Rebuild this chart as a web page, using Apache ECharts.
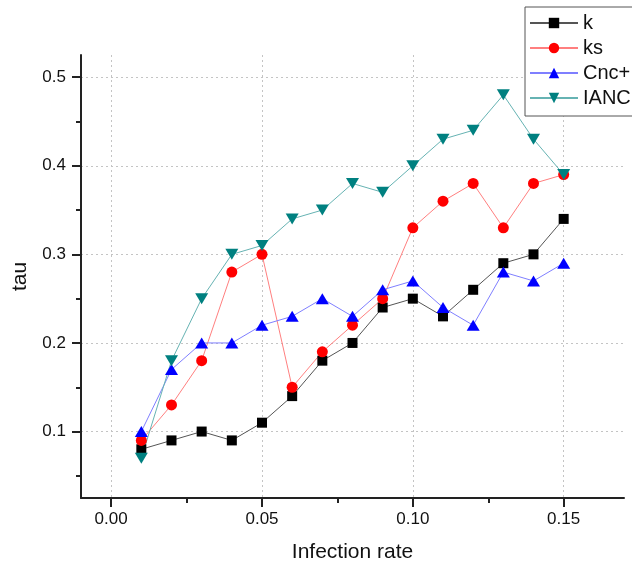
<!DOCTYPE html>
<html>
<head>
<meta charset="utf-8">
<script src="https://cdn.jsdelivr.net/npm/echarts@6/dist/echarts.min.js"></script>
<style>html,body{margin:0;padding:0;background:#fff}#c{width:632px;height:568px}</style>
</head>
<body>
<div id="c"></div>
<script>
const xValues = [0.01,0.02,0.03,0.04,0.05,0.06,0.07,0.08,0.09,0.10,0.11,0.12,0.13,0.14,0.15];
const kValues    = [0.08,0.09,0.10,0.09,0.11,0.14,0.18,0.20,0.24,0.25,0.23,0.26,0.29,0.30,0.34];
const ksValues   = [0.09,0.13,0.18,0.28,0.30,0.15,0.19,0.22,0.25,0.33,0.36,0.38,0.33,0.38,0.39];
const cncValues  = [0.10,0.17,0.20,0.20,0.22,0.23,0.25,0.23,0.26,0.27,0.24,0.22,0.28,0.27,0.29];
const iancValues = [0.07,0.18,0.25,0.30,0.31,0.34,0.35,0.38,0.37,0.40,0.43,0.44,0.48,0.43,0.39];
const xMajorTicks = [0, 0.05, 0.10, 0.15];
const xMinorTicks = [0.025, 0.075, 0.125];
const yMajorTicks = [0.1, 0.2, 0.3, 0.4, 0.5];
const yMinorTicks = [0.05, 0.15, 0.25, 0.35, 0.45];
const seriesNames = ['k', 'ks', 'Cnc+', 'IANC'];

const FONT = '"Liberation Sans", Arial, sans-serif';
const pair = v => xValues.map((x, i) => [x, v[i]]);
const axisLineStyle = {color: '#222', width: 2};
const gridDot = {show: true, lineStyle: {color: '#c4c4c4', width: 1, type: [2, 3]}};

const chart = echarts.init(document.getElementById('c'), null, {renderer: 'canvas'});
chart.setOption({
  animation: false,
  backgroundColor: '#fff',
  textStyle: {fontFamily: FONT},
  grid: {left: 81, top: 55, width: 543, height: 444},
  legend: {
    orient: 'vertical', left: 525, top: 7,
    padding: [6, 20, 8, 4],
    itemWidth: 48, itemHeight: 13, itemGap: 5,
    borderColor: '#555', borderWidth: 1, backgroundColor: '#fff',
    textStyle: {fontFamily: FONT, fontSize: 20, color: '#111', padding: [0, 0, 0, 0]},
    data: seriesNames
  },
  xAxis: [{
    type: 'value', min: -0.01, max: 0.17,
    name: 'Infection rate', nameLocation: 'middle', nameGap: 44,
    nameTextStyle: {fontFamily: FONT, fontSize: 21, color: '#111'},
    axisLine: {show: true, onZero: false, lineStyle: axisLineStyle},
    axisTick: {show: true, inside: false, length: 9, lineStyle: {color: '#222', width: 2}, customValues: xMajorTicks},
    axisLabel: {customValues: xMajorTicks, formatter: v => v.toFixed(2), fontFamily: FONT, fontSize: 17, color: '#111', margin: 13},
    splitLine: gridDot
  }, {
    type: 'value', min: -0.01, max: 0.17, position: 'bottom',
    axisLine: {show: false, onZero: false},
    axisTick: {show: true, length: 5, lineStyle: {color: '#222', width: 2}, customValues: xMinorTicks},
    axisLabel: {show: false},
    splitLine: {show: false}
  }],
  yAxis: [{
    type: 'value', min: 0.025, max: 0.525,
    name: 'tau', nameLocation: 'middle', nameGap: 50,
    nameTextStyle: {fontFamily: FONT, fontSize: 21, color: '#111'},
    axisLine: {show: true, onZero: false, lineStyle: axisLineStyle},
    axisTick: {show: true, length: 9, lineStyle: {color: '#222', width: 2}, customValues: yMajorTicks},
    axisLabel: {customValues: yMajorTicks, formatter: v => v.toFixed(1), fontFamily: FONT, fontSize: 17, color: '#111', margin: 15},
    splitLine: gridDot
  }, {
    type: 'value', min: 0.025, max: 0.525, position: 'left',
    axisLine: {show: false, onZero: false},
    axisTick: {show: true, length: 5, lineStyle: {color: '#222', width: 2}, customValues: yMinorTicks},
    axisLabel: {show: false},
    splitLine: {show: false}
  }],
  series: [
    {name: seriesNames[0], type: 'line', data: pair(kValues), symbol: 'rect', symbolSize: 10,
     itemStyle: {color: '#000'}, lineStyle: {color: '#555', width: 1}},
    {name: seriesNames[1], type: 'line', data: pair(ksValues), symbol: 'circle', symbolSize: 11,
     itemStyle: {color: '#ff0000'}, lineStyle: {color: '#ff7f7f', width: 1}},
    {name: seriesNames[2], type: 'line', data: pair(cncValues), symbol: 'triangle', symbolSize: [13, 11],
     itemStyle: {color: '#0000ff'}, lineStyle: {color: '#7f7fff', width: 1}},
    {name: seriesNames[3], type: 'line', data: pair(iancValues), symbol: 'triangle', symbolRotate: 180, symbolSize: [13, 11],
     itemStyle: {color: '#008080'}, lineStyle: {color: '#66b3b3', width: 1}}
  ]
});
</script>
</body>
</html>
